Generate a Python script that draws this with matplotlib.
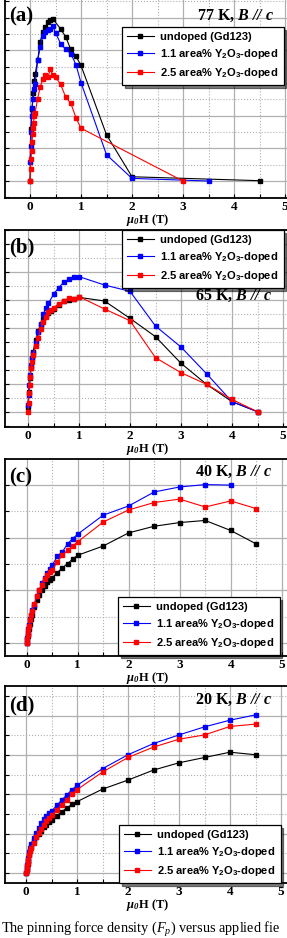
import matplotlib
matplotlib.use("Agg")
import matplotlib.pyplot as plt
from matplotlib.ticker import MultipleLocator

plt.rcParams['mathtext.fontset'] = 'custom'
plt.rcParams['mathtext.rm'] = 'Liberation Serif'
plt.rcParams['mathtext.it'] = 'Liberation Serif:italic'
plt.rcParams['mathtext.bf'] = 'Liberation Serif:bold'
plt.rcParams['mathtext.bfit'] = 'Liberation Serif:italic:bold'
plt.rcParams['mathtext.sf'] = 'Liberation Sans:bold'

W, H = 287, 938

labels = ['undoped (Gd123)',
          r'1.1 area% Y$_\mathsf{2}$O$_\mathsf{3}$-doped',
          r'2.5 area% Y$_\mathsf{2}$O$_\mathsf{3}$-doped']
colors = ['black', 'blue', 'red']

# (a) 77 K
a_x_und = [0, 0.02, 0.04, 0.06, 0.08, 0.1, 0.15, 0.2, 0.25, 0.3, 0.35, 0.4, 0.45,
           0.6, 0.7, 0.8, 0.9, 1.0, 1.5, 2.0, 4.5]
a_y_und = [0, 3.17, 4.39, 5.41, 6.12, 6.52, 7.38, 8.5, 9.13, 9.41, 9.72, 9.88, 9.92,
           9.31, 8.82, 8.05, 7.64, 7.07, 2.83, 0.26, 0.02]
a_x_11 = [0, 0.01, 0.02, 0.03, 0.04, 0.06, 0.08, 0.1, 0.15, 0.2, 0.25, 0.3, 0.35, 0.4,
          0.45, 0.5, 0.6, 0.7, 0.8, 0.9, 1.0, 1.5, 2.0, 3.5]
a_y_11 = [1.14, 2.15, 2.97, 3.98, 4.49, 5.0, 5.61, 5.91, 7.38, 8.19, 8.86, 9.13, 9.23, 9.33,
          9.47, 9.07, 8.41, 8.05, 7.8, 7.13, 6.02, 1.61, 0.16, 0.0]
a_x_25 = [0, 0.01, 0.02, 0.03, 0.04, 0.05, 0.06, 0.07, 0.08, 0.1, 0.15, 0.2, 0.25, 0.3,
          0.35, 0.4, 0.45, 0.5, 0.6, 0.7, 0.8, 0.9, 1.0, 3.0]
a_y_25 = [0, 0.73, 1.34, 1.85, 2.36, 2.87, 3.27, 3.58, 3.98, 4.19, 5.04, 5.77, 6.22, 6.46,
          6.38, 6.83, 6.46, 6.38, 5.91, 5.14, 4.76, 3.88, 3.23, 0.0]

# (b) 65 K
b_x_und = [0, 0.02, 0.04, 0.06, 0.08, 0.1, 0.15, 0.2, 0.25, 0.3, 0.35, 0.4, 0.45, 0.5,
           0.6, 0.7, 0.8, 0.9, 1.0, 1.5, 2.0, 2.5, 3.0, 3.5, 4.0, 4.5]
b_y_und = [0.38, 1.45, 2.4, 3.14, 3.86, 4.31, 5.14, 5.79, 6.21, 6.62, 6.88, 7.05, 7.21, 7.36,
           7.64, 7.93, 8.0, 8.07, 8.19, 7.93, 6.69, 5.38, 3.48, 1.98, 0.74, 0.02]
b_x_11 = [0, 0.01, 0.02, 0.04, 0.06, 0.08, 0.1, 0.15, 0.2, 0.25, 0.3, 0.35, 0.4, 0.5,
          0.6, 0.7, 0.8, 0.9, 1.0, 1.5, 2.0, 2.5, 3.0, 3.5, 4.0, 4.5]
b_y_11 = [0.5, 1.21, 1.93, 2.64, 3.36, 3.83, 4.19, 4.9, 5.74, 6.31, 6.98, 7.45, 7.76, 8.4,
          8.88, 9.26, 9.48, 9.67, 9.67, 9.07, 8.62, 6.14, 4.64, 2.74, 0.74, 0.02]
b_x_25 = [0, 0.01, 0.02, 0.03, 0.04, 0.06, 0.08, 0.1, 0.15, 0.2, 0.25, 0.3, 0.35, 0.4,
          0.45, 0.5, 0.6, 0.7, 0.8, 0.9, 1.0, 1.5, 2.0, 2.5, 3.0, 3.5, 4.0, 4.5]
b_y_25 = [0, 0.62, 1.33, 1.93, 2.52, 3.12, 3.6, 4.07, 4.74, 5.31, 5.93, 6.45, 6.81, 7.12,
          7.29, 7.45, 7.71, 7.93, 8.12, 8.07, 8.24, 7.36, 6.52, 3.88, 2.81, 1.98, 0.9, 0.02]

# (c) 40 K
c_x = [0, 0.01, 0.02, 0.03, 0.04, 0.06, 0.08, 0.1, 0.15, 0.2, 0.25, 0.3, 0.35, 0.4,
       0.45, 0.5, 0.6, 0.7, 0.8, 0.9, 1.0, 1.5, 2.0, 2.5, 3.0, 3.5, 4.0, 4.5]
c_y_und = [0, 0.14, 0.27, 0.39, 0.52, 0.73, 0.92, 1.08, 1.37, 1.62, 1.84, 2.03, 2.16, 2.32,
           2.39, 2.48, 2.67, 2.85, 3.01, 3.18, 3.33, 3.68, 4.18, 4.43, 4.57, 4.65, 4.27, 3.76]
c_y_11 = [0, 0.19, 0.35, 0.52, 0.67, 0.9, 1.08, 1.24, 1.46, 1.77, 2.03, 2.28, 2.48, 2.66,
          2.82, 2.95, 3.29, 3.46, 3.76, 3.96, 4.13, 4.85, 5.2, 5.73, 5.92, 6.01, 5.99]
c_y_25 = [0, 0.16, 0.32, 0.48, 0.63, 0.86, 1.05, 1.2, 1.49, 1.78, 2.0, 2.22, 2.42, 2.59,
          2.7, 2.76, 3.08, 3.33, 3.52, 3.68, 3.84, 4.59, 5.05, 5.33, 5.46, 5.16, 5.39, 5.1]

# (d) 20 K
d_x = c_x
d_y_und = [0, 0.17, 0.32, 0.47, 0.63, 0.9, 1.14, 1.34, 1.61, 1.81, 1.98, 2.15, 2.32, 2.46,
           2.59, 2.69, 2.9, 3.12, 3.31, 3.49, 3.63, 4.27, 4.73, 5.24, 5.61, 5.88, 6.15, 6.02]
d_y_11 = [0, 0.22, 0.42, 0.59, 0.76, 1.07, 1.27, 1.47, 1.78, 2.03, 2.29, 2.53, 2.73, 2.92,
          3.05, 3.14, 3.44, 3.71, 3.98, 4.24, 4.46, 5.31, 6.02, 6.59, 7.03, 7.44, 7.78, 8.05]
d_y_25 = [0, 0.17, 0.34, 0.51, 0.64, 0.9, 1.1, 1.27, 1.54, 1.81, 2.03, 2.24, 2.42, 2.63,
          2.8, 2.93, 3.19, 3.47, 3.73, 4.02, 4.24, 5.14, 5.88, 6.41, 6.81, 7.03, 7.46, 7.58]

panels = [
    dict(tag='(a)', temp='77 K', top=-2, bottom=198, x0=30, ylim=(-1.04, 11.2),
         series=[(a_x_und, a_y_und), (a_x_11, a_y_11), (a_x_25, a_y_25)],
         tag_y=16, temp_xy=(274, 16), leg_xy=(122, 27)),
    dict(tag='(b)', temp='65 K', top=230, bottom=427, x0=28, ylim=(-1.07, 13.0),
         series=[(b_x_und, b_y_und), (b_x_11, b_y_11), (b_x_25, b_y_25)],
         tag_y=247, temp_xy=(272, 296), leg_xy=(122, 230)),
    dict(tag='(c)', temp='40 K', top=459, bottom=656, x0=26.7, ylim=(-0.49, 6.98),
         series=[(c_x, c_y_und), (c_x[:-1], c_y_11), (c_x, c_y_25)],
         tag_y=477, temp_xy=(272, 472), leg_xy=(118, 597)),
    dict(tag='(d)', temp='20 K', top=686, bottom=883, x0=26, ylim=(-0.51, 9.52),
         series=[(d_x, d_y_und), (d_x, d_y_11), (d_x, d_y_25)],
         tag_y=705, temp_xy=(272, 700), leg_xy=(119, 825)),
]

fig = plt.figure(figsize=(W / 100, H / 100), dpi=100)

left, right, scale = 5, 291, 51.0
for p in panels:
    ax = fig.add_axes([left / W, 1 - p['bottom'] / H, (right - left) / W,
                       (p['bottom'] - p['top']) / H])
    for (x, y), c, lab in zip(p['series'], colors, labels):
        ax.plot(x, y, '-s', color=c, lw=0.8, ms=3, mec=c, label=lab)
    ax.set_xlim(-(p['x0'] - left) / scale, (right - p['x0']) / scale)
    ax.set_ylim(*p['ylim'])
    ax.xaxis.set_major_locator(MultipleLocator(1))
    ax.xaxis.set_minor_locator(MultipleLocator(0.5))
    ax.yaxis.set_major_locator(MultipleLocator(2))
    ax.yaxis.set_minor_locator(MultipleLocator(1))
    ax.grid(which='major', color='#b0b0b0', lw=0.9, ls='-')
    ax.grid(which='minor', color='#b0b0b0', lw=0.8, ls=':')
    ax.set_axisbelow(True)
    ax.tick_params(which='both', direction='in', length=3, width=0.8,
                   top=False, right=False, labelleft=False, pad=2.5)
    for lbl in ax.get_xticklabels():
        lbl.set_family('Liberation Serif')
        lbl.set_fontweight('bold')
        lbl.set_fontsize(9.5)
    for s in ax.spines.values():
        s.set_linewidth(1.3)
    ax.set_xlabel(r'$\mathbfit{\mu}_{\mathbfit{0}}$H (T)', family='Liberation Serif',
                  fontweight='bold', fontsize=9, labelpad=-1)
    fig.text(9 / W, 1 - p['tag_y'] / H, p['tag'], family='Liberation Serif',
             fontweight='bold', fontsize=15, ha='left', va='center')
    fig.text(p['temp_xy'][0] / W, 1 - p['temp_xy'][1] / H,
             p['temp'] + r', $\mathbfit{B}$ $\mathbfit{//}$ $\mathbfit{c}$',
             family='Liberation Serif', fontweight='bold', fontsize=11.5,
             ha='right', va='center')
    leg = ax.legend(loc='upper left', bbox_to_anchor=(p['leg_xy'][0] / W, 1 - p['leg_xy'][1] / H),
                    bbox_transform=fig.transFigure, borderaxespad=0, frameon=True,
                    fancybox=False, shadow={'color': 'black'}, edgecolor='black',
                    prop={'family': 'Liberation Sans', 'weight': 'bold', 'size': 8},
                    handlelength=2.4, handletextpad=0.6, borderpad=0.45,
                    labelspacing=0.45)
    leg.get_frame().set_linewidth(0.9)

fig.text(1 / W, 1 - 929 / H, r'The pinning force density ($F_p$) versus applied fie',
         family='Liberation Serif', fontsize=10.3, ha='left', va='center')

fig.savefig('out.png', dpi=100)
